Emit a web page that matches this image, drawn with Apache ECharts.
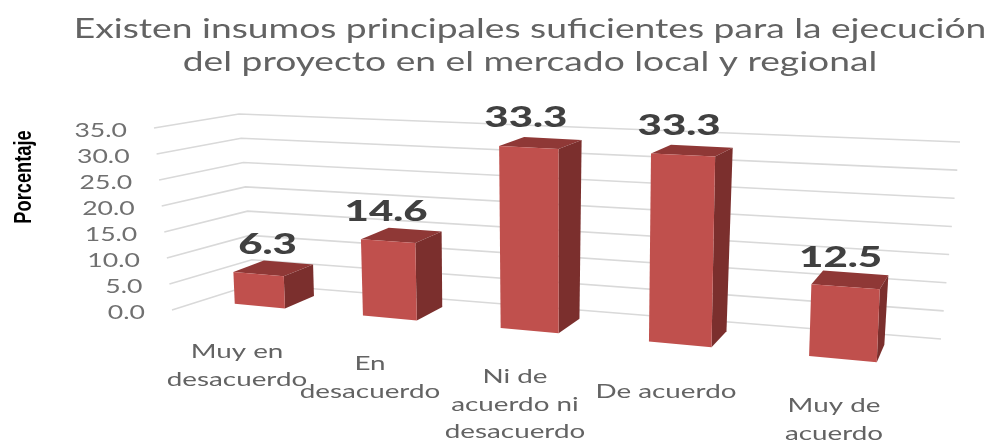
<!DOCTYPE html>
<html><head><meta charset="utf-8">
<style>html,body{margin:0;padding:0;background:#fff}#c{width:991px;height:442px}</style>
<script src="https://cdn.jsdelivr.net/npm/echarts@6/dist/echarts.min.js"></script>
</head><body><div id="c"></div>
<script>
const titleText = 'Existen insumos principales suficientes para la ejecución\ndel proyecto en el mercado local y regional';
const categories = ['Muy en\ndesacuerdo','En\ndesacuerdo','Ni de\nacuerdo ni\ndesacuerdo','De acuerdo','Muy de\nacuerdo'];
const values = [6.3,14.6,33.3,33.3,12.5];
const valueTicks = [0,5,10,15,20,25,30,35];
const yName = 'Porcentaje';

function quad(p0,p1,p2,p3,k){
  const dx1=p1[0]-p2[0],dx2=p3[0]-p2[0],sx=p0[0]-p1[0]+p2[0]-p3[0];
  const dy1=p1[1]-p2[1],dy2=p3[1]-p2[1],sy=p0[1]-p1[1]+p2[1]-p3[1];
  const den=dx1*dy2-dx2*dy1;
  const g=(sx*dy2-dx2*sy)/den,h=(dx1*sy-sx*dy1)/den;
  const a=p1[0]-p0[0]+g*p1[0],b=p3[0]-p0[0]+h*p3[0],c=p0[0];
  const d=p1[1]-p0[1]+g*p1[1],e=p3[1]-p0[1]+h*p3[1],f=p0[1];
  return (u0,v)=>{const u=u0-k*u0*(1-u0);const w=g*u+h*v+1;return [(a*u+b*v+c)/w,(d*u+e*v+f)/w];};
}
// bottom-left, bottom-right, top-right, top-left of the two planes the bars' faces lie in
const frontPlane = quad([198,300.5],[929,367],[939,157],[189.5,122],0.02);
const backPlane  = quad([229,288.7],[934,349],[947,149],[222,112.5],0.04);
const lerp=(a,b,t)=>[a[0]+(b[0]-a[0])*t,a[1]+(b[1]-a[1])*t];
// wall and floor outline
const wallFrontBottom=[172,310],wallFrontTop=[154,128];
const wallCornerBottom=[254,284],wallCornerTop=[239,114];
const wallRightBottom=[941,339],wallRightTop=[960,142];

function norm(params,api,cat,val){
  const s=params.coordSys;
  const p=api.coord([cat,val]);
  return [(p[0]-s.x)/s.width,(s.y+s.height-p[1])/s.height];
}
const barHalf=0.2;
const labelDx=[9,-2,-3,-4,-5];

const option={
  animation:false,
  backgroundColor:'#fff',
  grid:{left:100,right:100,top:100,bottom:100},
  xAxis:{type:'category',data:categories,show:false},
  yAxis:{type:'value',min:0,max:35,interval:5,show:false},
  graphic:[
   {type:'text',x:530,y:45.5,scaleX:1.378,
    style:{text:titleText,fontFamily:'Lato',fontSize:27,lineHeight:33,fill:'#636363',align:'center',verticalAlign:'middle'}},
   {type:'text',x:24,y:177,rotation:Math.PI/2,scaleX:0.76,scaleY:1,
    style:{text:yName,fontFamily:'Liberation Sans',fontWeight:'bold',fontSize:24,fill:'#000',align:'center',verticalAlign:'middle'}}],
  series:[
    {type:'custom',z:1,silent:true,encode:{y:0},data:valueTicks.map(v=>[v]),
     renderItem(params,api){
       const v=api.value(0);
       const t=norm(params,api,0,v)[1];
       const A=lerp(wallFrontBottom,wallFrontTop,t),B=lerp(wallCornerBottom,wallCornerTop,t),C=lerp(wallRightBottom,wallRightTop,t);
       return {type:'group',children:[
         {type:'polyline',shape:{points:[A,B,C]},style:{fill:null,stroke:'#D9D9D9',lineWidth:1.6}},
         {type:'text',x:A[0]-27,y:A[1]+3,scaleX:1.4,style:{text:v.toFixed(1),fontFamily:'Lato',fontSize:19,fill:'#707070',align:'right',verticalAlign:'middle'}}
       ]};
     }},
    {type:'custom',z:2,silent:true,encode:{x:0,y:1},
     data:values.map((v,i)=>[i,v]),
     renderItem(params,api){
       const i=api.value(0),v=api.value(1);
       const w=api.size([1,0])[0];
       const s=params.coordSys;
       const dn=barHalf*w/s.width;
       const [c,t]=norm(params,api,i,v);
       const l=c-dn,r=c+dn;
       const FBL=frontPlane(l,0),FBR=frontPlane(r,0),FTR=frontPlane(r,t),FTL=frontPlane(l,t);
       const BBR=backPlane(r,0),BTR=backPlane(r,t),BTL=backPlane(l,t);
       const mid=lerp(FTL,FTR,.5);
       return {type:'group',children:[
         {type:'polygon',shape:{points:[FTL,FTR,BTR,BTL]},style:{fill:'#8F3836'}},
         {type:'polygon',shape:{points:[FTR,FBR,BBR,BTR]},style:{fill:'#7B2F2D'}},
         {type:'polygon',shape:{points:[FTL,FTR,FBR,FBL]},style:{fill:'#C0504D'}},
         {type:'text',x:mid[0]+labelDx[i],y:mid[1]-29,scaleX:1.5,style:{text:v.toFixed(1),fontFamily:'Lato',fontWeight:900,fontSize:28,fill:'#404040',align:'center',verticalAlign:'middle'}}
       ]};
     }},
    {type:'custom',z:3,silent:true,encode:{x:0},
     data:categories.map((c,i)=>[i]),
     renderItem(params,api){
       const i=api.value(0);
       const pos=[[237,348],[370,360],[515,373],[666,388],[834,402]][i];
       return {type:'text',x:pos[0],y:pos[1]-10,scaleX:1.39,style:{text:categories[i],fontFamily:'Lato',fontSize:20,lineHeight:27.5,fill:'#636363',align:'center',verticalAlign:'top'}};
     }}
  ]
};
echarts.init(document.getElementById('c')).setOption(option);
</script></body></html>
